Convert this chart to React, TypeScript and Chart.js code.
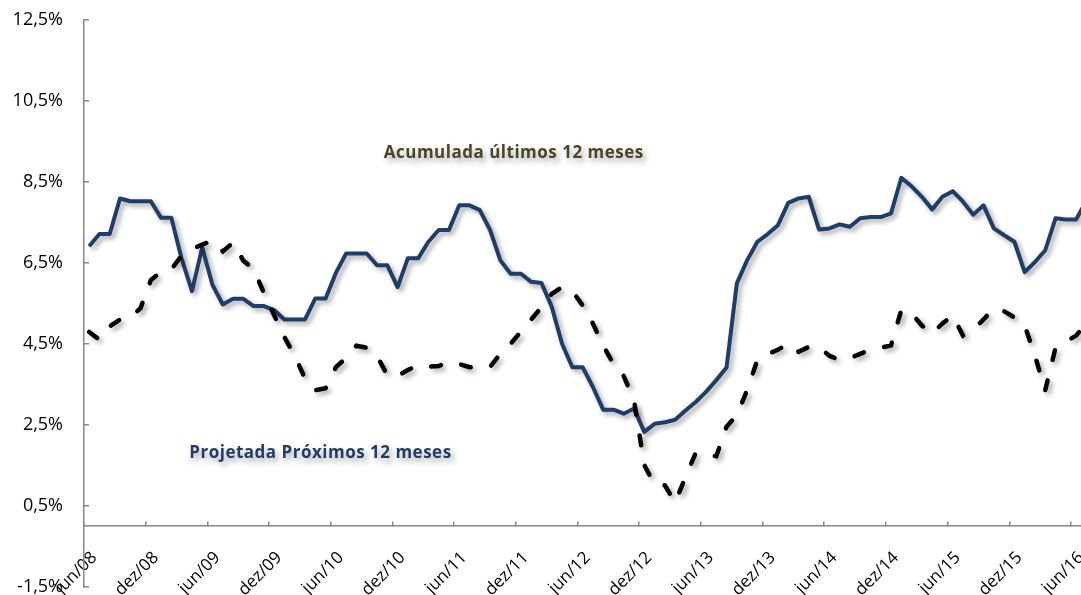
import React, { useEffect, useRef } from "react";
import { Chart, registerables } from "chart.js";

Chart.register(...registerables);

// ---- data ----
const categories = [
  "jun/08", "jul/08", "ago/08", "set/08", "out/08", "nov/08", "dez/08",
  "jan/09", "fev/09", "mar/09", "abr/09", "mai/09", "jun/09", "jul/09", "ago/09", "set/09", "out/09", "nov/09", "dez/09",
  "jan/10", "fev/10", "mar/10", "abr/10", "mai/10", "jun/10", "jul/10", "ago/10", "set/10", "out/10", "nov/10", "dez/10",
  "jan/11", "fev/11", "mar/11", "abr/11", "mai/11", "jun/11", "jul/11", "ago/11", "set/11", "out/11", "nov/11", "dez/11",
  "jan/12", "fev/12", "mar/12", "abr/12", "mai/12", "jun/12", "jul/12", "ago/12", "set/12", "out/12", "nov/12", "dez/12",
  "jan/13", "fev/13", "mar/13", "abr/13", "mai/13", "jun/13", "jul/13", "ago/13", "set/13", "out/13", "nov/13", "dez/13",
  "jan/14", "fev/14", "mar/14", "abr/14", "mai/14", "jun/14", "jul/14", "ago/14", "set/14", "out/14", "nov/14", "dez/14",
  "jan/15", "fev/15", "mar/15", "abr/15", "mai/15", "jun/15", "jul/15", "ago/15", "set/15", "out/15", "nov/15", "dez/15",
  "jan/16", "fev/16", "mar/16", "abr/16", "mai/16", "jun/16", "jul/16",
];

// Acumulada últimos 12 meses (%)
const acumulada12m = [
  6.91, 7.21, 7.21, 8.09, 8.02, 8.02, 8.02,
  7.61, 7.61, 6.6, 5.8, 6.88, 5.95, 5.47, 5.61, 5.61, 5.43, 5.43, 5.33,
  5.1, 5.1, 5.1, 5.62, 5.62, 6.25, 6.73, 6.73, 6.73, 6.44, 6.44, 5.9,
  6.61, 6.61, 7.02, 7.31, 7.31, 7.92, 7.92, 7.8, 7.31, 6.56, 6.23, 6.23,
  6.03, 6.0, 5.41, 4.5, 3.92, 3.92, 3.43, 2.87, 2.87, 2.77, 2.9, 2.32,
  2.52, 2.56, 2.62, 2.85, 3.06, 3.31, 3.6, 3.91, 5.99, 6.56, 7.02, 7.21,
  7.43, 7.98, 8.09, 8.13, 7.32, 7.35, 7.45, 7.39, 7.6, 7.63, 7.63, 7.72,
  8.6, 8.39, 8.13, 7.82, 8.13, 8.27, 8.01, 7.69, 7.92, 7.35, 7.18, 7.02,
  6.27, 6.52, 6.81, 7.6, 7.57, 7.57, 8.03,
];

// Projetada próximos 12 meses (%)
const projetada12m = [
  4.79, 4.6, 4.93, 5.1, 5.15, 5.38, 6.07,
  6.28, 6.34, 6.68, 6.84, 6.95, 7.05, 6.78, 7.0, 6.55, 6.35, 5.75, 5.2,
  4.66, 4.2, 3.64, 3.35, 3.4, 3.92, 4.15, 4.45, 4.4, 4.2, 3.72, 3.7,
  3.85, 3.97, 3.93, 3.95, 4.05, 4.0, 3.92, 3.92, 3.93, 4.25, 4.5, 4.8,
  5.1, 5.4, 5.73, 5.9, 5.8, 5.45, 5.0, 4.45, 4.0, 3.7, 3.1, 1.5,
  1.02, 1.0, 0.58, 1.2, 1.8, 1.75, 1.72, 2.45, 2.73, 3.35, 4.1, 4.25,
  4.35, 4.5, 4.3, 4.42, 4.42, 4.2, 4.1, 4.15, 4.25, 4.35, 4.4, 4.46,
  5.33, 5.25, 4.95, 4.75, 5.0, 5.2, 4.7, 4.85, 5.1, 5.37, 5.3, 5.15,
  4.95, 4.2, 3.35, 4.4, 4.55, 4.7, 5.0,
];

const yMin = -1.5;
const yMax = 12.5;
const yStep = 2;
const labelEvery = 6;

// in-chart annotations, anchored in data space (category index, value)
const notes = [
  { text: "Acumulada últimos 12 meses", at: 41.3, value: 9.21, color: "#4a4628" },
  { text: "Projetada Próximos 12 meses", at: 22.5, value: 1.79, color: "#1f3d68" },
];

const AXIS_GRAY = "#888888";
const FONT = "'Open Sans', 'DejaVu Sans', sans-serif";

const shadowPlugin = {
  id: "lineShadow",
  beforeDatasetDraw(chart: any) {
    const c = chart.ctx;
    c.save();
    c.shadowColor = "rgba(0,0,0,0.35)";
    c.shadowBlur = 5;
    c.shadowOffsetX = 3;
    c.shadowOffsetY = 3;
  },
  afterDatasetDraw(chart: any) {
    chart.ctx.restore();
  },
};

const notesPlugin = {
  id: "notes",
  afterDatasetsDraw(chart: any) {
    const c = chart.ctx;
    const xs = chart.scales.x;
    const ys = chart.scales.y;
    c.save();
    c.font = `bold 17px ${FONT}`;
    c.textAlign = "center";
    c.textBaseline = "middle";
    try {
      (c as any).letterSpacing = "0.5px";
    } catch (e) {}
    c.shadowColor = "rgba(0,0,0,0.35)";
    c.shadowBlur = 6;
    c.shadowOffsetX = 3;
    c.shadowOffsetY = 4;
    for (const n of notes) {
      c.fillStyle = n.color;
      c.fillText(n.text, xs.getPixelForValue(n.at), ys.getPixelForValue(n.value));
    }
    c.restore();
  },
};

export default function App() {
  const ref = useRef<HTMLCanvasElement | null>(null);

  useEffect(() => {
    document.body.style.margin = "0";
    document.body.style.overflow = "hidden";
    const canvas = ref.current;
    if (!canvas) return;
    const chart = new Chart(canvas, {
      type: "line",
      data: {
        labels: categories,
        datasets: [
          {
            label: "Acumulada últimos 12 meses",
            data: acumulada12m,
            borderColor: "#1f3d68",
            borderWidth: 4,
            pointRadius: 0,
            tension: 0,
            borderJoinStyle: "round",
            order: 2,
          },
          {
            label: "Projetada Próximos 12 meses",
            data: projetada12m,
            borderColor: "#000000",
            borderWidth: 4.5,
            borderDash: [10, 21],
            borderCapStyle: "round",
            pointRadius: 0,
            tension: 0,
            order: 1,
          },
        ],
      },
      options: {
        responsive: false,
        animation: false,
        events: [],
        layout: { padding: { top: 20, right: 0.5, bottom: 8.5, left: 0 } },
        plugins: {
          legend: { display: false },
          tooltip: { enabled: false },
          title: { display: false },
        },
        scales: {
          x: {
            type: "category",
            position: { y: 0 } as any,
            offset: true,
            grid: {
              offset: true,
              drawOnChartArea: false,
              drawTicks: true,
              tickLength: -5,
              lineWidth: 1.5,
              color: (ctx: any) =>
                typeof ctx.index === "number" && ctx.index % labelEvery === 0 ? AXIS_GRAY : "rgba(0,0,0,0)",
            },
            border: { display: true, color: AXIS_GRAY, width: 1.5 },
            ticks: {
              autoSkip: false,
              minRotation: 45,
              maxRotation: 45,
              padding: 27,
              labelOffset: 5,
              color: "#000",
              font: { family: FONT, size: 17 },
              callback: (_v: any, i: number) => (i % labelEvery === 0 ? categories[i] : ""),
            },
            afterFit: (s: any) => {
              s.height = 0;
              s.paddingLeft = 0;
              s.paddingRight = 0;
            },
          },
          y: {
            min: yMin,
            max: yMax,
            grid: {
              drawOnChartArea: false,
              drawTicks: true,
              tickLength: -5,
              lineWidth: 1.5,
              color: AXIS_GRAY,
            },
            border: { display: true, color: AXIS_GRAY, width: 1.5 },
            ticks: {
              stepSize: yStep,
              padding: 26,
              color: "#000",
              font: { family: FONT, size: 18 },
              callback: (v: any) => Number(v).toFixed(1).replace(".", ",") + "%",
            },
            afterFit: (s: any) => {
              s.width = 84;
              s.paddingTop = 0;
              s.paddingBottom = 0;
            },
          },
        },
      },
      plugins: [shadowPlugin, notesPlugin],
    });
    return () => chart.destroy();
  }, []);

  return (
    <div style={{ width: 1092, height: 595, overflow: "hidden" }}>
      <canvas ref={ref} width={1092} height={595} style={{ display: "block", width: 1092, height: 595 }} />
    </div>
  );
}
